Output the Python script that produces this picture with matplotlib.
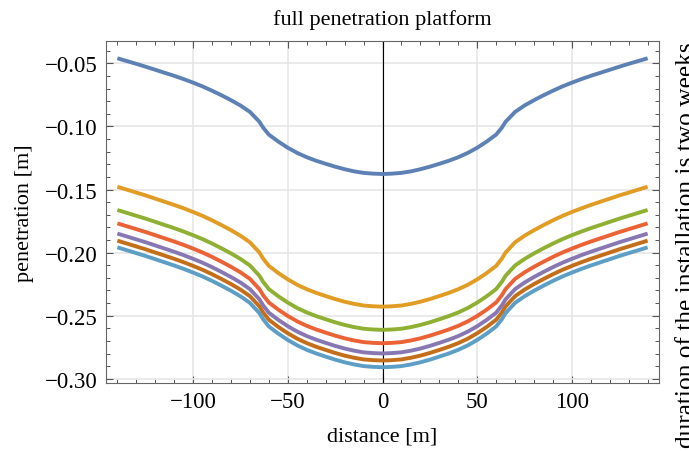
import numpy as np
import matplotlib.pyplot as plt
from matplotlib.ticker import MultipleLocator, FuncFormatter

# the chart is symmetric about x = 0, values read for x >= 0 and mirrored
x_half = [0, 5, 10, 15, 20, 25, 30, 35, 40, 45, 50, 55, 60, 63, 65,
          70, 75, 80, 85, 90, 95, 100, 105, 110, 115, 120, 125, 130, 135, 140]

pen_blue = [-0.1377, -0.1374, -0.1368, -0.1356, -0.1339, -0.1319, -0.1296, -0.1272, -0.1244, -0.1210,
            -0.1169, -0.1120, -0.1065, -0.1010, -0.0963, -0.0885, -0.0834, -0.0792, -0.0753, -0.0717,
            -0.0683, -0.0653, -0.0625, -0.0599, -0.0575, -0.0551, -0.0527, -0.0504, -0.0482, -0.0460]
pen_orange = [-0.2428, -0.2425, -0.2419, -0.2406, -0.2389, -0.2368, -0.2344, -0.2319, -0.2290, -0.2255,
              -0.2212, -0.2162, -0.2105, -0.2048, -0.1999, -0.1918, -0.1866, -0.1822, -0.1782, -0.1744,
              -0.1709, -0.1678, -0.1649, -0.1622, -0.1597, -0.1572, -0.1547, -0.1524, -0.1501, -0.1478]
pen_green = [-0.2612, -0.2609, -0.2603, -0.2590, -0.2573, -0.2552, -0.2528, -0.2503, -0.2474, -0.2439,
             -0.2396, -0.2346, -0.2289, -0.2232, -0.2183, -0.2102, -0.2050, -0.2006, -0.1966, -0.1928,
             -0.1893, -0.1862, -0.1833, -0.1806, -0.1781, -0.1756, -0.1731, -0.1708, -0.1685, -0.1662]
pen_red = [-0.2718, -0.2715, -0.2709, -0.2696, -0.2679, -0.2658, -0.2634, -0.2609, -0.2580, -0.2545,
           -0.2502, -0.2452, -0.2395, -0.2338, -0.2289, -0.2208, -0.2156, -0.2112, -0.2072, -0.2034,
           -0.1999, -0.1968, -0.1939, -0.1912, -0.1887, -0.1862, -0.1837, -0.1814, -0.1791, -0.1768]
pen_purple = [-0.2799, -0.2796, -0.2790, -0.2777, -0.2760, -0.2739, -0.2715, -0.2690, -0.2661, -0.2626,
              -0.2583, -0.2533, -0.2476, -0.2419, -0.2370, -0.2289, -0.2237, -0.2193, -0.2153, -0.2115,
              -0.2080, -0.2049, -0.2020, -0.1993, -0.1968, -0.1943, -0.1918, -0.1895, -0.1872, -0.1849]
pen_brown = [-0.2855, -0.2852, -0.2846, -0.2833, -0.2816, -0.2795, -0.2771, -0.2746, -0.2717, -0.2682,
             -0.2639, -0.2589, -0.2532, -0.2475, -0.2426, -0.2345, -0.2293, -0.2249, -0.2209, -0.2171,
             -0.2136, -0.2105, -0.2076, -0.2049, -0.2024, -0.1999, -0.1974, -0.1951, -0.1928, -0.1905]
pen_lblue = [-0.2908, -0.2905, -0.2899, -0.2886, -0.2869, -0.2848, -0.2824, -0.2799, -0.2770, -0.2735,
             -0.2692, -0.2642, -0.2585, -0.2528, -0.2479, -0.2398, -0.2346, -0.2302, -0.2262, -0.2224,
             -0.2189, -0.2158, -0.2129, -0.2102, -0.2077, -0.2052, -0.2027, -0.2004, -0.1981, -0.1958]

series = [pen_blue, pen_orange, pen_green, pen_red, pen_purple, pen_brown, pen_lblue]
colors = ['#5E81B5', '#E19C24', '#8FB032', '#EB6235', '#8778B3', '#C56E1A', '#5D9EC7']

plt.rcParams['font.family'] = ['Liberation Serif', 'DejaVu Serif']

fig = plt.figure(figsize=(6.89, 4.52), dpi=100)
ax = fig.add_axes([106/689, 1-384/452, 553/689, 342/452])

xh = np.array(x_half)
for ys, c in zip(series, colors):
    ys = np.array(ys)
    xs = np.concatenate([-xh[::-1], xh[1:]])
    yy = np.concatenate([ys[::-1], ys[1:]])
    ax.plot(xs, yy, color=c, lw=2.8, solid_capstyle='butt', solid_joinstyle='round', zorder=3)

ax.axvline(0, color='black', lw=0.8, zorder=2)

ax.set_xlim(-146, 146)
ax.set_ylim(-0.3033, -0.0323)

ax.xaxis.set_major_locator(MultipleLocator(50))
ax.xaxis.set_minor_locator(MultipleLocator(10))
ax.yaxis.set_major_locator(MultipleLocator(0.05))
ax.yaxis.set_minor_locator(MultipleLocator(0.01))
ax.yaxis.set_major_formatter(FuncFormatter(lambda v, p: f'{v:.2f}'.replace('-', '\u2212')))
ax.xaxis.set_major_formatter(FuncFormatter(lambda v, p: f'{v:.0f}'.replace('-', '\u2212')))

ax.grid(True, which='major', color='#e6e6e6', lw=1.2, zorder=0)
ax.tick_params(which='both', direction='in', top=True, right=True, color='#555555',
               labelsize=16.5, pad=6)
ax.tick_params(which='major', length=5, width=0.8)
ax.tick_params(which='minor', length=3, width=0.7)
for s in ax.spines.values():
    s.set_color('#666666')
    s.set_linewidth(0.8)

ax.set_title('full penetration platform', fontsize=16, pad=12)
ax.set_xlabel('distance [m]', fontsize=16, labelpad=10)
ax.set_ylabel('penetration [m]', fontsize=16, labelpad=8)

# side note, runs off the right edge in the original too
fig.text(676/689, 0.458, 'duration of the installation is two weeks', rotation=90,
         ha='left', va='center', fontsize=18.3)

fig.savefig('out.png', dpi=100)
